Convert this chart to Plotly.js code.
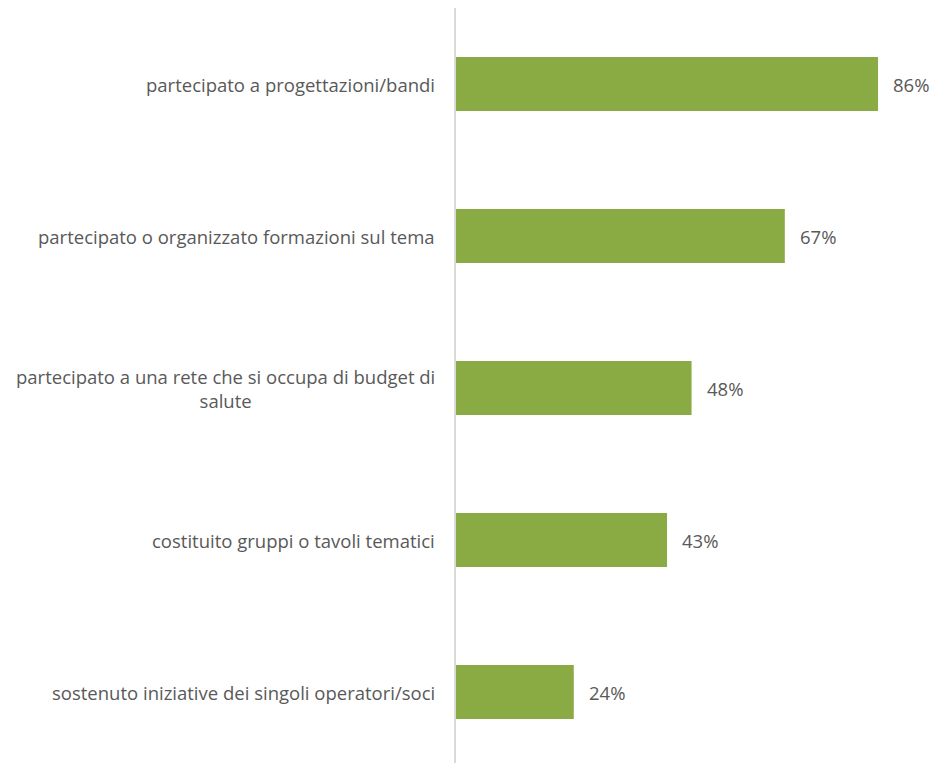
<!DOCTYPE html>
<html>
<head>
<meta charset="utf-8">
<script src="https://cdn.plot.ly/plotly-3.0.1.min.js"></script>
<style>html,body{margin:0;padding:0;background:#fff;}#chart{width:934px;height:763px;}</style>
</head>
<body>
<div id="chart"></div>
<script>
const categories = [
  "partecipato a progettazioni/bandi",
  "partecipato o organizzato formazioni sul tema",
  "partecipato a una rete che si occupa di budget di<br>salute",
  "costituito gruppi o tavoli tematici",
  "sostenuto iniziative dei singoli operatori/soci"
];
const values = [86, 67, 48, 43, 24];
const valueLabels = ["86%", "67%", "48%", "43%", "24%"];

const yIdx = categories.map((c, i) => i);
const fontFam = "'Open Sans', 'Liberation Sans', sans-serif";

const trace = {
  type: 'bar',
  orientation: 'h',
  x: values,
  y: yIdx,
  width: 0.355,
  marker: {color: '#8AAA44', line: {width: 0}},
  hoverinfo: 'none'
};

const catAnn = categories.map((c, i) => ({
  xref: 'paper', yref: 'y',
  x: 0, y: i,
  xanchor: 'right', yanchor: 'middle',
  xshift: -19,
  text: c,
  showarrow: false,
  align: 'center',
  font: {family: fontFam, size: 18.5, color: '#595959'}
}));
const valAnn = values.map((v, i) => ({
  xref: 'x', yref: 'y',
  x: v, y: i,
  xanchor: 'left', yanchor: 'middle',
  xshift: 13,
  text: valueLabels[i],
  showarrow: false,
  font: {family: fontFam, size: 18.5, color: '#595959'}
}));

const layout = {
  width: 934, height: 763,
  margin: {l: 456, r: 0, t: 8, b: 0},
  paper_bgcolor: '#ffffff',
  plot_bgcolor: '#ffffff',
  showlegend: false,
  xaxis: {range: [0, 97.4], showgrid: false, zeroline: false, showticklabels: false, showline: false, fixedrange: true},
  yaxis: {range: [4.467, -0.5], showgrid: false, zeroline: false, showticklabels: false,
          showline: true, linecolor: '#D9D9D9', linewidth: 2, fixedrange: true},
  annotations: catAnn.concat(valAnn)
};

Plotly.newPlot('chart', [trace], layout, {displayModeBar: false, staticPlot: true});
</script>
</body>
</html>
